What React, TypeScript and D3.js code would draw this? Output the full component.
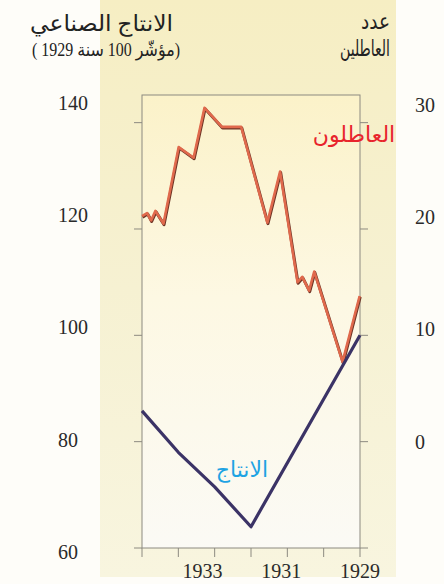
import React from "react";
import * as d3 from "d3";

// Industrial production index (1929 = 100), left axis
const prodYears = [1935, 1934, 1933, 1932, 1929];
const prodIndex = [85.8, 78, 71.5, 64, 100];

// Number of unemployed, right axis
const unempDates = [1935.0, 1934.86, 1934.75, 1934.63, 1934.41, 1933.99, 1933.58, 1933.28, 1932.8, 1932.27, 1931.55, 1931.2, 1930.72, 1930.59, 1930.4, 1930.26, 1929.48, 1929.01];
const unempValues = [21.2, 21.5, 20.8, 21.7, 20.5, 27.7, 26.7, 31.4, 29.6, 29.6, 20.6, 25.4, 15.0, 15.5, 14.2, 16.0, 7.5, 13.7];

const xTickYears = [1929, 1930, 1931, 1932, 1933, 1934, 1935];
const xLabelYears = [1929, 1931, 1933];
const leftTicks = [60, 80, 100, 120, 140];
const rightTicks = [0, 10, 20, 30];

const titleLeft1 = "الانتاج الصناعي";
const titleLeft2 = "(مؤشّر 100 سنة 1929 )";
const titleRight1 = "عدد";
const titleRight2 = "العاطلين";
const labelUnemp = "العاطلون";
const labelProd = "الانتاج";

const W = 444, H = 584;
const L = 142, R = 360, T = 95, B = 548;

export default function App() {
  const x = d3.scaleLinear().domain([1929, 1935]).range([R, L]);
  const y = d3.scaleLinear().domain([60, 145.2]).range([B, T]);
  const yR = d3.scaleLinear().domain([-10, 32.6]).range([B, T]);
  // printed label positions of the scanned original (slightly offset from the ticks)
  const yLab = d3.scaleLinear().domain([60, 140]).range([551.7, 103]);
  const yLabR = d3.scaleLinear().domain([0, 30]).range([441.5, 105]);
  const xLab = d3.scaleLinear().domain([1929, 1933]).range([360, 202.5]);

  const prodLine = d3.line<number>().x((_, i) => x(prodYears[i])).y((d) => y(d));
  const unempLine = d3.line<number>().x((_, i) => x(unempDates[i])).y((d) => yR(d));

  const serif = "'Liberation Serif', 'DejaVu Serif', serif";
  const arab = "'Liberation Serif', 'DejaVu Sans', sans-serif";

  return (
    <svg width={W} height={H} style={{ position: "absolute", left: 0, top: 0 }}>
      <defs>
        <linearGradient id="panel" x1="0" y1="0" x2="0" y2="1">
          <stop offset="0" stopColor="#f6eec3" />
          <stop offset="0.5" stopColor="#f6f1d2" />
          <stop offset="1" stopColor="#f8f5df" />
        </linearGradient>
        <linearGradient id="plot" x1="0" y1="0" x2="0" y2="1">
          <stop offset="0" stopColor="#fbf2c9" />
          <stop offset="0.45" stopColor="#fdf8e3" />
          <stop offset="1" stopColor="#fbfaf5" />
        </linearGradient>
      </defs>
      <rect x={0} y={0} width={W} height={H} fill="#fefdf9" />
      <rect x={100} y={0} width={296} height={577} fill="url(#panel)" />
      <rect x={L} y={T} width={R - L} height={B - T} fill="url(#plot)" stroke="#8c8a80" strokeWidth={1} />

      {/* ticks */}
      {xTickYears.map((yr) => (
        <line key={"xt" + yr} x1={x(yr)} x2={x(yr)} y1={B} y2={B + 9} stroke="#8c8a80" strokeWidth={1} />
      ))}
      {leftTicks.map((v) => (
        <line key={"lt" + v} x1={L - 8} x2={L} y1={y(v)} y2={y(v)} stroke="#8c8a80" strokeWidth={1} />
      ))}
      {[-10, ...rightTicks].map((v) => (
        <line key={"rt" + v} x1={R} x2={R + 8} y1={yR(v)} y2={yR(v)} stroke="#8c8a80" strokeWidth={1} />
      ))}

      {/* tick labels */}
      {leftTicks.map((v) => (
        <text key={"ll" + v} x={58} y={yLab(v)} dy="0.35em" fontFamily={serif} fontSize={20} fill="#2a2a2a">
          {v}
        </text>
      ))}
      {rightTicks.map((v) => (
        <text key={"rl" + v} x={415} y={yLabR(v)} dy="0.35em" fontFamily={serif} fontSize={20} fill="#2a2a2a">
          {v}
        </text>
      ))}
      {xLabelYears.map((yr) => (
        <text key={"xl" + yr} x={xLab(yr)} y={578} textAnchor="middle" fontFamily={serif} fontSize={20} fill="#2a2a2a">
          {yr}
        </text>
      ))}

      {/* lines */}
      <path d={unempLine(unempValues) || ""} fill="none" stroke="#6e3526" strokeWidth={3} strokeLinejoin="round" transform="translate(0.6,1)" />
      <path d={unempLine(unempValues) || ""} fill="none" stroke="#e0694c" strokeWidth={2.6} strokeLinejoin="round" />
      <path d={prodLine(prodIndex) || ""} fill="none" stroke="#3b3366" strokeWidth={3.2} strokeLinejoin="round" />

      {/* series labels */}
      <text x={354} y={142} textAnchor="middle" fontFamily={arab} fontSize={22} fill="#e8242c">{labelUnemp}</text>
      <text x={242} y={477} textAnchor="middle" fontFamily={arab} fontSize={22} fill="#1ea3e3">{labelProd}</text>

      {/* headers */}
      <text x={101.5} y={31} textAnchor="middle" fontFamily={arab} fontSize={22} fill="#222" textLength={143} lengthAdjust="spacingAndGlyphs">{titleLeft1}</text>
      <text x={106} y={56} textAnchor="middle" direction="rtl" fontFamily={arab} fontSize={18} fill="#222" textLength={148} lengthAdjust="spacingAndGlyphs">{titleLeft2}</text>
      <text x={390} y={29} textAnchor="end" fontFamily={arab} fontSize={22} fill="#222" textLength={29} lengthAdjust="spacingAndGlyphs">{titleRight1}</text>
      <text x={390} y={56} textAnchor="end" fontFamily={arab} fontSize={22} fill="#222" textLength={50} lengthAdjust="spacingAndGlyphs">{titleRight2}</text>
    </svg>
  );
}
